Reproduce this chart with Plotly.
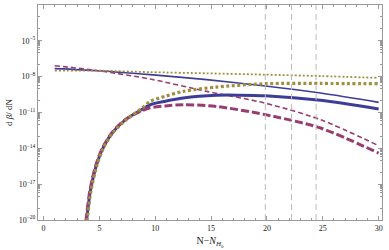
import plotly.graph_objects as go

# ---- data ----
N_thin = [1, 4.9, 9.55, 14.6, 19.85, 24.8, 30]
thin_blue_log = [-7.33, -7.5, -7.83, -8.25, -8.78, -9.37, -10.15]
thin_purple_log = [-7.08, -7.5, -8.2, -9.23, -10.22, -11.6, -13.78]
thin_olive_log = [-7.5, -7.5, -7.62, -7.72, -7.83, -7.95, -8.1]

N_thick_blue = [3.72, 3.85, 4.2, 4.7, 5.25, 6.15, 7.34, 8.8, 9.55, 10.9, 12.5, 15.5, 17.5, 19.85, 24.8, 30]
thick_blue_log = [-21, -20, -17.5, -15.5, -14.1, -12.7, -11.6, -10.75, -10.35, -10.06, -9.79, -9.56, -9.55, -9.6, -9.98, -10.7]

N_thick_purple = [3.67, 3.8, 4.15, 4.65, 5.2, 6.1, 7.3, 8.8, 9.55, 10.9, 12.5, 15.5, 19.85, 24.8, 30]
thick_purple_log = [-21, -20, -17.5, -15.5, -14.1, -12.7, -11.6, -10.85, -10.6, -10.45, -10.35, -10.5, -11.18, -12.3, -14.4]

N_thick_olive = [3.77, 3.9, 4.25, 4.75, 5.3, 6.2, 7.4, 8.8, 9.55, 10.9, 12.5, 15.5, 19.85, 24.8, 30]
thick_olive_log = [-21, -20, -17.5, -15.5, -14.1, -12.7, -11.6, -10.65, -10.07, -9.64, -9.23, -8.87, -8.59, -8.57, -8.59]

vlines_x = [19.85, 22.2, 24.4]

y_tick_exps = [-20, -17, -14, -11, -8, -5]
x_tick_vals = [0, 5, 10, 15, 20, 25, 30]

BLUE = "#3d3d99"
PURPLE = "#993d71"
OLIVE = "#a08f40"


def pw(logs):
    return [10 ** v for v in logs]


fig = go.Figure()

series = [
    (N_thin, thin_blue_log, BLUE, 1.6, "solid"),
    (N_thin, thin_purple_log, PURPLE, 1.6, "5px,3px"),
    (N_thin, thin_olive_log, OLIVE, 1.8, "2px,2px"),
    (N_thick_blue, thick_blue_log, BLUE, 3.0, "solid"),
    (N_thick_purple, thick_purple_log, PURPLE, 3.0, "8px,3px"),
    (N_thick_olive, thick_olive_log, OLIVE, 3.2, "3px,2.5px"),
]
for xs, ls, col, w, dash in series:
    fig.add_trace(go.Scatter(x=xs, y=pw(ls), mode="lines",
                             line=dict(color=col, width=w, dash=dash, shape="spline", smoothing=0.8),
                             showlegend=False, hoverinfo="skip"))

for xv in vlines_x:
    fig.add_vline(x=xv, line=dict(color="#bbbbbb", width=1, dash="6px,4px"))

font = dict(family="Liberation Serif, DejaVu Serif, serif", size=8, color="#222222")

major_y = [10.0 ** e for e in y_tick_exps]
major_y_text = ["10<sup>\u2212%d</sup>" % (-e) for e in y_tick_exps]
minor_y = []
for e in y_tick_exps:
    for m in range(2, 10):
        minor_y.append(m * 10.0 ** (e - 1))
for e in range(-20, -1):
    if e not in y_tick_exps:
        minor_y.append(10.0 ** e)
minor_y = [v for v in minor_y if 1e-20 <= v <= 1e-2]

fig.update_layout(
    width=389, height=250,
    margin=dict(l=38, r=7, t=5, b=30, autoexpand=False),
    paper_bgcolor="white", plot_bgcolor="white",
    font=font,
    xaxis=dict(range=[-0.5, 30.3], showgrid=False, zeroline=False, automargin=False,
               showline=True, linecolor="#999999", linewidth=1, mirror="allticks",
               ticks="inside", ticklen=4, tickcolor="#999999",
               tickvals=x_tick_vals, ticktext=[str(v) for v in x_tick_vals],
               minor=dict(dtick=1, ticks="inside", ticklen=2, tickcolor="#999999", showgrid=False),
               title=dict(text="N\u2212<i>N</i><sub><i>H</i><sub>0</sub></sub>", font=dict(size=10), standoff=5),
               tickfont=font),
    yaxis=dict(type="log", range=[-20, -2], showgrid=False, zeroline=False, automargin=False,
               showline=True, linecolor="#999999", linewidth=1, mirror="allticks",
               ticks="inside", ticklen=4, tickcolor="#999999",
               tickvals=major_y, ticktext=major_y_text,
               minor=dict(tickmode="array", tickvals=minor_y, ticks="inside", ticklen=2,
                          tickcolor="#999999", showgrid=False),
               title=dict(text="d <i>\u03b2</i>/ dN", font=dict(size=9), standoff=4),
               tickfont=font),
)

fig.write_html("out.html", config={"displayModeBar": False},
               post_script="document.body.style.margin='0';document.body.style.padding='0';")
